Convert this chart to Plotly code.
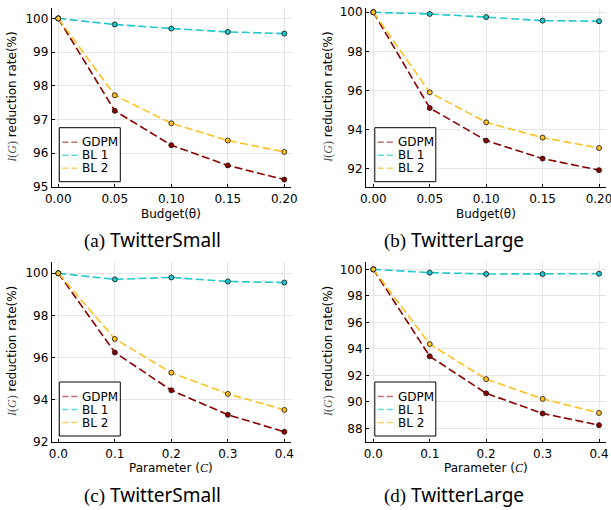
import plotly.graph_objects as go

# ---------------- data ----------------
budget = [0.00, 0.05, 0.10, 0.15, 0.20]
param_c = [0.0, 0.1, 0.2, 0.3, 0.4]

gdpm_a = [100.0, 97.26, 96.24, 95.64, 95.22]
bl1_a = [100.0, 99.82, 99.70, 99.60, 99.55]
bl2_a = [100.0, 97.72, 96.89, 96.38, 96.04]

gdpm_b = [100.0, 95.11, 93.45, 92.53, 91.94]
bl1_b = [100.0, 99.91, 99.75, 99.57, 99.54]
bl2_b = [100.0, 95.91, 94.38, 93.60, 93.07]

gdpm_c = [100.0, 96.24, 94.44, 93.28, 92.47]
bl1_c = [100.0, 99.71, 99.80, 99.61, 99.56]
bl2_c = [100.0, 96.88, 95.28, 94.27, 93.51]

gdpm_d = [100.0, 93.44, 90.65, 89.13, 88.25]
bl1_d = [100.0, 99.75, 99.65, 99.64, 99.67]
bl2_d = [100.0, 94.36, 91.72, 90.23, 89.17]

series_names = ["GDPM", "BL 1", "BL 2"]
series_colors = ["#8b0000", "#1ec8cc", "#ffc125"]
legend_colors = ["#c07070", "#5fd8db", "#ffd066"]

yticks_a = [95, 96, 97, 98, 99, 100]
yticks_b = [92, 94, 96, 98, 100]
yticks_c = [92, 94, 96, 98, 100]
yticks_d = [88, 90, 92, 94, 96, 98, 100]

captions = ["(a)", "(b)", "(c)", "(d)"]
dataset_names = ["TwitterSmall", "TwitterLarge", "TwitterSmall", "TwitterLarge"]
x_titles = ["Budget(θ)", "Budget(θ)",
            "Parameter (<span style='font-family:Liberation Serif'><i>C</i></span>)",
            "Parameter (<span style='font-family:Liberation Serif'><i>C</i></span>)"]
y_title = ("<span style='font-family:Liberation Serif;color:#555'><i>I</i>(<i>G</i>)</span>"
           " reduction rate(%)")

W, H = 611, 510
FONT = "DejaVu Sans"

panels = [
    dict(x=budget, ys=[gdpm_a, bl1_a, bl2_a], yt=yticks_a, fmt=".2f",
         px=(51.7, 291.0), py=(8.3, 187.0), xr=[-0.0058, 0.2059], yr=[95.0, 100.3],
         leg=(59.3, 127.7), cap=(152.5, 240.0), ytx=12.0),
    dict(x=budget, ys=[gdpm_b, bl1_b, bl2_b], yt=yticks_b, fmt=".2f",
         px=(366.0, 606.0), py=(8.3, 187.0), xr=[-0.0065, 0.2062], yr=[91.08, 100.2],
         leg=(374.8, 127.7), cap=(454.0, 240.0), ytx=328.0),
    dict(x=param_c, ys=[gdpm_c, bl1_c, bl2_c], yt=yticks_c, fmt=".1f",
         px=(51.7, 291.0), py=(262.3, 441.7), xr=[-0.0117, 0.4117], yr=[92.0, 100.52],
         leg=(59.3, 382.0), cap=(152.5, 495.0), ytx=12.0),
    dict(x=param_c, ys=[gdpm_d, bl1_d, bl2_d], yt=yticks_d, fmt=".1f",
         px=(366.0, 606.0), py=(262.3, 441.7), xr=[-0.013, 0.4124], yr=[87.0, 100.53],
         leg=(374.8, 382.0), cap=(454.0, 495.0), ytx=328.0),
]

# legend box geometry (pixels, relative to box top-left)
LEG_W, LEG_H = 61.0, 54.0
LEG_ROWS = [14.5, 27.5, 40.5]
LEG_LINE = (3.0, 19.0)
LEG_TEXT_X = 21.0

fig = go.Figure()
annotations = []
shapes = []
layout_axes = {}


def px_x(v):
    return v / W


def px_y(v):
    return 1 - v / H


for i, p in enumerate(panels):
    n = i + 1
    xa = "x" if n == 1 else f"x{n}"
    ya = "y" if n == 1 else f"y{n}"
    xkey = "xaxis" if n == 1 else f"xaxis{n}"
    ykey = "yaxis" if n == 1 else f"yaxis{n}"

    for name, color, yv in zip(series_names, series_colors, p["ys"]):
        fig.add_trace(go.Scatter(
            x=p["x"], y=yv, mode="lines+markers", name=name,
            line=dict(color=color, width=1.6, dash="8px,3.5px"),
            marker=dict(color=color, size=5, line=dict(color="#111", width=0.8)),
            xaxis=xa, yaxis=ya, showlegend=False, cliponaxis=False,
        ))

    x0, x1 = p["px"]
    yt0, yb0 = p["py"]
    common = dict(
        showline=True, linecolor="black", linewidth=1, mirror=False,
        ticks="inside", ticklen=3, tickcolor="black", tickwidth=1,
        showgrid=True, gridcolor="#e6e6e6", gridwidth=0.8, zeroline=False,
        tickfont=dict(family=FONT, size=12, color="black"), automargin=False,
        ticklabeloverflow="allow",
    )
    layout_axes[xkey] = dict(
        domain=[px_x(x0), px_x(x1)], range=p["xr"], anchor=ya,
        tickvals=p["x"], tickformat=p["fmt"], ticklabelstandoff=1, **common,
    )
    layout_axes[ykey] = dict(
        domain=[px_y(yb0), px_y(yt0)], range=p["yr"], anchor=xa,
        tickvals=p["yt"], **common,
    )

    # legend box (drawn as layout decoration)
    lx, ly = p["leg"]
    shapes.append(dict(
        type="rect", xref="paper", yref="paper",
        x0=px_x(lx), x1=px_x(lx + LEG_W), y0=px_y(ly + LEG_H), y1=px_y(ly),
        line=dict(color="black", width=1), fillcolor="white", layer="above",
    ))
    for name, lcol, ry in zip(series_names, legend_colors, LEG_ROWS):
        shapes.append(dict(
            type="line", xref="paper", yref="paper",
            x0=px_x(lx + LEG_LINE[0]), x1=px_x(lx + LEG_LINE[1]),
            y0=px_y(ly + ry), y1=px_y(ly + ry),
            line=dict(color=lcol, width=1.6, dash="6px,3px"), layer="above",
        ))
        annotations.append(dict(
            text=name, x=px_x(lx + LEG_TEXT_X), y=px_y(ly + ry),
            xref="paper", yref="paper", xanchor="left", yanchor="middle",
            showarrow=False, font=dict(family=FONT, size=12, color="black"),
        ))

    # x-axis title
    annotations.append(dict(
        text=x_titles[i], x=px_x((x0 + x1) / 2), y=px_y(yb0 + 26.5),
        xref="paper", yref="paper", xanchor="center", yanchor="middle",
        showarrow=False, font=dict(family=FONT, size=12, color="black"),
    ))
    # y-axis title
    annotations.append(dict(
        text=y_title, x=px_x(p["ytx"]), y=px_y((yt0 + yb0) / 2),
        xref="paper", yref="paper", xanchor="center", yanchor="middle",
        textangle=-90, showarrow=False,
        font=dict(family=FONT, size=12, color="black"),
    ))
    # caption
    cx, cy = p["cap"]
    annotations.append(dict(
        text=(f"<span style='font-family:Liberation Serif'>{captions[i]}</span> "
              f"{dataset_names[i]}"),
        x=px_x(cx), y=px_y(cy), xref="paper", yref="paper",
        xanchor="center", yanchor="middle", showarrow=False,
        font=dict(family="Noto Sans", size=19, color="black"),
    ))

fig.update_layout(
    width=W, height=H, margin=dict(l=0, r=0, t=0, b=0),
    paper_bgcolor="white", plot_bgcolor="white", showlegend=False,
    annotations=annotations, shapes=shapes, **layout_axes,
)

fig.write_html("out.html")
